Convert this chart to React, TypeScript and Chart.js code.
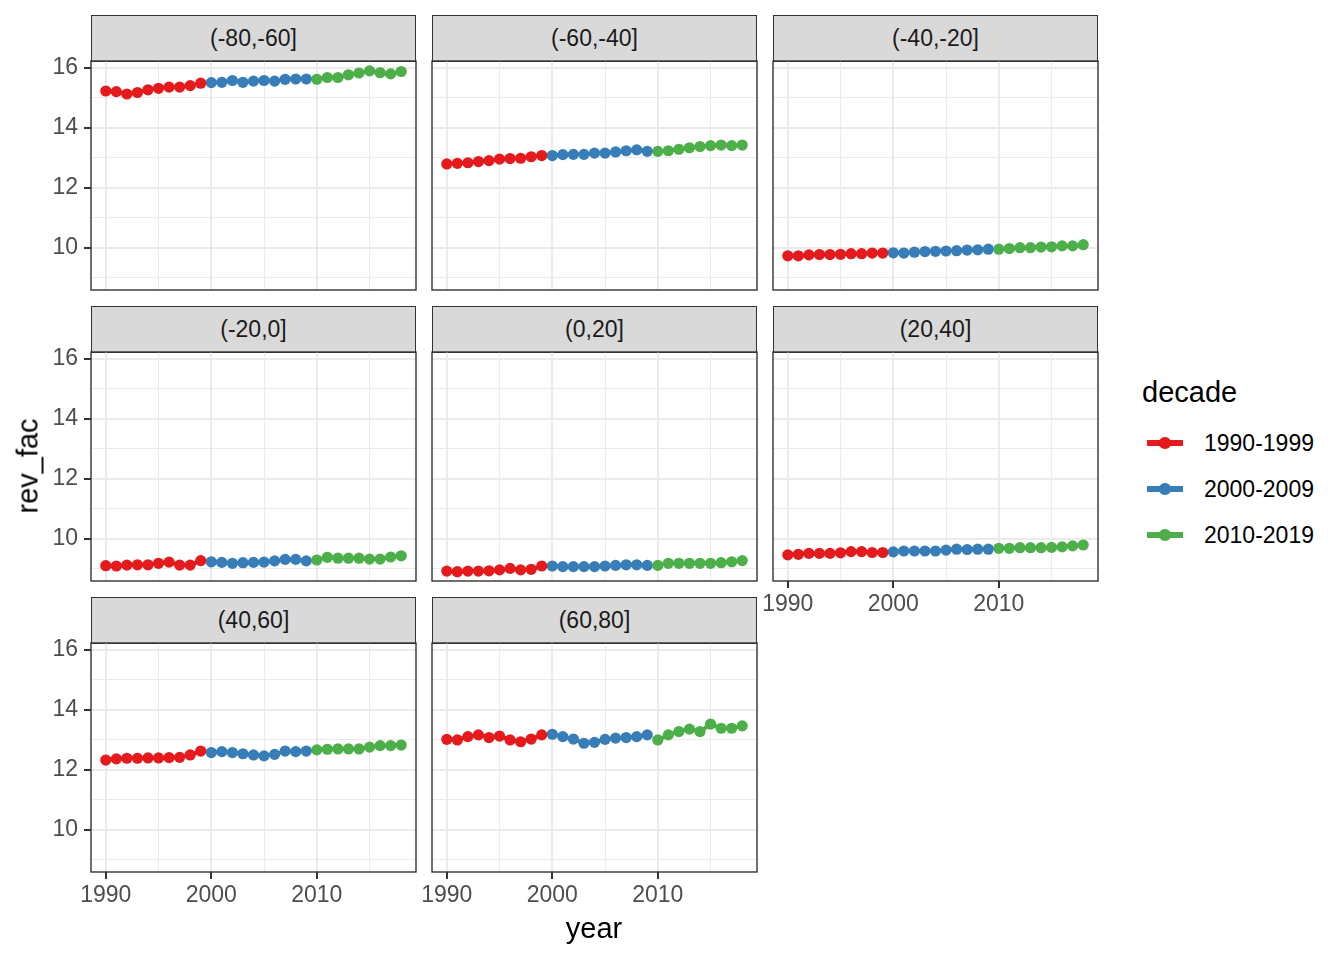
import React, { useEffect, useRef } from 'react';
import { Chart, registerables } from 'chart.js';
Chart.register(...registerables);

const years = [1990, 1991, 1992, 1993, 1994, 1995, 1996, 1997, 1998, 1999, 2000, 2001, 2002, 2003, 2004, 2005, 2006, 2007, 2008, 2009, 2010, 2011, 2012, 2013, 2014, 2015, 2016, 2017, 2018];
const decades = ['1990-1999', '2000-2009', '2010-2019'];
const decadeColors = ['#E41A1C', '#377EB8', '#4DAF4A'];
const panelLabels = ['(-80,-60]', '(-60,-40]', '(-40,-20]', '(-20,0]', '(0,20]', '(20,40]', '(40,60]', '(60,80]'];

const valsM80M60 = [15.23, 15.21, 15.13, 15.18, 15.27, 15.32, 15.36, 15.36, 15.41, 15.49, 15.51, 15.52, 15.58, 15.52, 15.56, 15.58, 15.56, 15.62, 15.63, 15.63, 15.62, 15.68, 15.68, 15.77, 15.83, 15.9, 15.84, 15.8, 15.88];
const valsM60M40 = [12.8, 12.82, 12.84, 12.88, 12.91, 12.96, 12.98, 12.99, 13.04, 13.08, 13.08, 13.11, 13.12, 13.12, 13.16, 13.16, 13.2, 13.24, 13.27, 13.22, 13.22, 13.24, 13.29, 13.34, 13.38, 13.41, 13.43, 13.41, 13.43];
const valsM40M20 = [9.74, 9.74, 9.77, 9.78, 9.78, 9.79, 9.81, 9.81, 9.83, 9.83, 9.84, 9.83, 9.86, 9.88, 9.89, 9.9, 9.91, 9.93, 9.94, 9.96, 9.96, 9.98, 10.01, 10.01, 10.03, 10.04, 10.07, 10.07, 10.11];
const valsM20P0 = [9.11, 9.1, 9.13, 9.14, 9.14, 9.19, 9.23, 9.13, 9.13, 9.28, 9.24, 9.22, 9.19, 9.21, 9.22, 9.23, 9.27, 9.32, 9.32, 9.27, 9.3, 9.39, 9.36, 9.36, 9.36, 9.33, 9.33, 9.4, 9.44];
const valsP0P20 = [8.93, 8.91, 8.93, 8.93, 8.94, 8.97, 9.02, 8.97, 8.99, 9.1, 9.1, 9.08, 9.08, 9.08, 9.08, 9.1, 9.12, 9.14, 9.14, 9.12, 9.12, 9.19, 9.19, 9.19, 9.19, 9.19, 9.21, 9.24, 9.28];
const valsP20P40 = [9.47, 9.49, 9.52, 9.52, 9.52, 9.54, 9.58, 9.58, 9.55, 9.55, 9.57, 9.6, 9.6, 9.6, 9.6, 9.63, 9.66, 9.65, 9.66, 9.66, 9.69, 9.69, 9.71, 9.71, 9.71, 9.72, 9.74, 9.77, 9.8];
const valsP40P60 = [12.33, 12.37, 12.39, 12.39, 12.4, 12.4, 12.41, 12.42, 12.5, 12.63, 12.58, 12.61, 12.58, 12.54, 12.5, 12.47, 12.52, 12.63, 12.61, 12.63, 12.67, 12.69, 12.7, 12.7, 12.7, 12.76, 12.81, 12.81, 12.83];
const valsP60P80 = [13.02, 13.0, 13.11, 13.17, 13.08, 13.13, 13.0, 12.94, 13.03, 13.17, 13.19, 13.11, 13.03, 12.89, 12.92, 13.02, 13.06, 13.08, 13.11, 13.17, 13.0, 13.17, 13.28, 13.36, 13.28, 13.53, 13.39, 13.39, 13.47];

const panelValues = [valsM80M60, valsM60M40, valsM40M20, valsM20P0, valsP0P20, valsP20P40, valsP40P60, valsP60P80];

const xMajorTicks = [1990, 2000, 2010];
const xMinorTicks = [1995, 2005, 2015];
const yMajorTicks = [10, 12, 14, 16];
const yMinorTicks = [9, 11, 13, 15];

const X_MIN = 1988.6;
const X_MAX = 2019.4;
const Y_MIN = 8.6;
const Y_MAX = 16.23;

const FONT = '"Liberation Sans", Arial, Helvetica, sans-serif';
const TICK_SIZE = 23;
const TITLE_SIZE = 29;
const PW = 325;
const PH = 229;
const PAD_L = 60;
const PAD_R = 6;
const PAD_T = 4;
const PAD_B = 46;
const STRIP_H = 46;
const colLefts = [91, 432, 773];
const rowTops = [61, 352, 643];

const borderPlugin = {
  id: 'panelBorder',
  afterDraw(chart: any) {
    const { ctx, chartArea: a } = chart;
    ctx.save();
    ctx.strokeStyle = '#333333';
    ctx.lineWidth = 1.4;
    ctx.strokeRect(a.left, a.top, a.right - a.left, a.bottom - a.top);
    ctx.restore();
  },
};

const zeroPad = (s: any) => {
  s.paddingTop = 0;
  s.paddingBottom = 0;
  s.paddingLeft = 0;
  s.paddingRight = 0;
};

function Panel({ label, values, showX, showY, left, top }: any) {
  const ref = useRef<HTMLCanvasElement | null>(null);
  useEffect(() => {
    if (!ref.current) return;
    const datasets = decades.map((d, i) => ({
      label: d,
      data: years
        .map((yr, j) => ({ x: yr, y: values[j] }))
        .filter((p) => Math.floor((p.x - 1990) / 10) === i),
      borderColor: decadeColors[i],
      backgroundColor: decadeColors[i],
      pointBackgroundColor: decadeColors[i],
      pointBorderWidth: 0,
      pointRadius: 5.6,
      borderWidth: 4,
      tension: 0,
    }));
    const xTicks = [...xMajorTicks, ...xMinorTicks].sort((a, b) => a - b);
    const yTicks = [...yMajorTicks, ...yMinorTicks].sort((a, b) => a - b);
    const chart = new Chart(ref.current, {
      type: 'line',
      data: { datasets } as any,
      plugins: [borderPlugin],
      options: {
        animation: false,
        responsive: false,
        maintainAspectRatio: false,
        devicePixelRatio: 1,
        layout: { padding: { right: PAD_R, top: PAD_T, left: 0, bottom: 0 }, autoPadding: false } as any,
        plugins: { legend: { display: false }, tooltip: { enabled: false } },
        scales: {
          x: {
            type: 'linear',
            min: X_MIN,
            max: X_MAX,
            afterBuildTicks: (s: any) => {
              s.ticks = xTicks.map((v) => ({ value: v }));
            },
            afterFit: (s: any) => {
              s.height = PAD_B;
              zeroPad(s);
            },
            ticks: {
              display: showX,
              autoSkip: false,
              maxRotation: 0,
              padding: 3,
              color: '#4D4D4D',
              font: { family: FONT, size: TICK_SIZE },
              callback: (v: any) => (xMajorTicks.includes(Number(v)) ? String(v) : ''),
            },
            grid: {
              color: '#EBEBEB',
              lineWidth: (c: any) => (c.tick && xMajorTicks.includes(c.tick.value) ? 2 : 1),
              drawTicks: showX,
              tickLength: 7,
              tickWidth: 2,
              tickColor: (c: any) => (c.tick && xMajorTicks.includes(c.tick.value) ? '#333333' : 'rgba(0,0,0,0)'),
            },
            border: { display: false },
          },
          y: {
            type: 'linear',
            min: Y_MIN,
            max: Y_MAX,
            afterBuildTicks: (s: any) => {
              s.ticks = yTicks.map((v) => ({ value: v }));
            },
            afterFit: (s: any) => {
              s.width = PAD_L;
              zeroPad(s);
            },
            ticks: {
              display: showY,
              autoSkip: false,
              padding: 6,
              color: '#4D4D4D',
              font: { family: FONT, size: TICK_SIZE },
              callback: (v: any) => (yMajorTicks.includes(Number(v)) ? String(v) : ''),
            },
            grid: {
              color: '#EBEBEB',
              lineWidth: (c: any) => (c.tick && yMajorTicks.includes(c.tick.value) ? 2 : 1),
              drawTicks: showY,
              tickLength: 7,
              tickWidth: 2,
              tickColor: (c: any) => (c.tick && yMajorTicks.includes(c.tick.value) ? '#333333' : 'rgba(0,0,0,0)'),
            },
            border: { display: false },
          },
        },
      } as any,
    });
    return () => chart.destroy();
  }, [values, showX, showY]);

  const cw = PW + PAD_L + PAD_R;
  const ch = PH + PAD_T + PAD_B;
  return (
    <>
      <div
        style={{
          position: 'absolute',
          left: left,
          top: top - STRIP_H,
          width: PW,
          height: STRIP_H + 1,
          background: '#D9D9D9',
          border: '1.4px solid #333333',
          boxSizing: 'border-box',
          display: 'flex',
          alignItems: 'center',
          justifyContent: 'center',
          fontFamily: FONT,
          fontSize: TICK_SIZE,
          color: '#1A1A1A',
        }}
      >
        {label}
      </div>
      <canvas
        ref={ref}
        width={cw}
        height={ch}
        style={{ position: 'absolute', left: left - PAD_L, top: top - PAD_T, width: cw, height: ch }}
      />
    </>
  );
}

export default function App() {
  const legendYs = [443, 489, 535];
  return (
    <div style={{ position: 'absolute', left: 0, top: 0, width: 1344, height: 960, background: '#FFFFFF', overflow: 'hidden', fontFamily: FONT }}>
      {panelLabels.map((lab, i) => {
        const row = Math.floor(i / 3);
        const col = i % 3;
        return (
          <Panel
            key={lab}
            label={lab}
            values={panelValues[i]}
            showX={i >= 5}
            showY={col === 0}
            left={colLefts[col]}
            top={rowTops[row]}
          />
        );
      })}
      <div style={{ position: 'absolute', left: 594, top: 928, transform: 'translate(-50%,-50%)', fontSize: TITLE_SIZE, color: '#000', whiteSpace: 'nowrap', lineHeight: 1 }}>year</div>
      <div style={{ position: 'absolute', left: 28, top: 466, transform: 'translate(-50%,-50%) rotate(-90deg)', fontSize: TITLE_SIZE, color: '#000', whiteSpace: 'nowrap', lineHeight: 1 }}>rev_fac</div>
      <div style={{ position: 'absolute', left: 1142, top: 392, transform: 'translateY(-50%)', fontSize: TITLE_SIZE, color: '#000', lineHeight: 1 }}>decade</div>
      {decades.map((d, i) => (
        <React.Fragment key={d}>
          <div style={{ position: 'absolute', left: 1147, top: legendYs[i] - 2.75, width: 36, height: 5.5, background: decadeColors[i] }} />
          <div style={{ position: 'absolute', left: 1165 - 5.6, top: legendYs[i] - 5.6, width: 11.2, height: 11.2, borderRadius: '50%', background: decadeColors[i] }} />
          <div style={{ position: 'absolute', left: 1204, top: legendYs[i], transform: 'translateY(-50%)', fontSize: TICK_SIZE, color: '#000', lineHeight: 1, whiteSpace: 'nowrap' }}>{d}</div>
        </React.Fragment>
      ))}
    </div>
  );
}
